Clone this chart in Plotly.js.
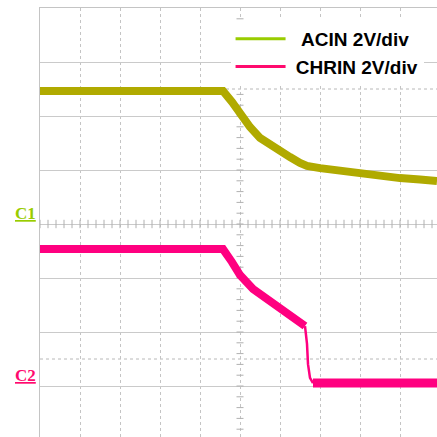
<!DOCTYPE html>
<html>
<head>
<meta charset="utf-8">
<script src="https://cdn.plot.ly/plotly-3.0.1.min.js"></script>
<style>html,body{margin:0;padding:0;background:#fff;}#chart{width:437px;height:437px;}</style>
</head>
<body>
<div id="chart"></div>
<script>
// Time axis in oscilloscope divisions
var acinTime  = [0, 4.575, 4.8, 5.0, 5.25, 5.5, 5.75, 6.0, 6.25, 6.5, 6.675, 7.0, 7.5, 8.0, 8.5, 9.0, 9.5, 9.925];
var acinVolts = [4.93, 4.93, 4.52, 4.07, 3.59, 3.19, 2.93, 2.70, 2.48, 2.26, 2.15, 2.07, 1.96, 1.85, 1.78, 1.70, 1.65, 1.59];

var chrinTime  = [0, 4.575, 4.8, 5.0, 5.325, 5.675, 6.0, 6.325, 6.575, 6.625, 6.675, 6.7, 6.75, 6.825, 9.925];
var chrinVolts = [5.07, 5.07, 4.59, 4.11, 3.59, 3.22, 2.85, 2.59, 2.33, 2.22, 1.56, 0.81, 0.30, 0.11, 0.11];

var channelNames   = ['ACIN 2V/div', 'CHRIN 2V/div'];
var channelLabels  = ['C1', 'C2'];
var channelOffsets = [4, 1];        // ground marker, divisions from bottom
var voltsPerDiv    = [2, 2];
var cursorVolts    = [5, 1];        // dotted cursor level on each channel

var traceColors  = ['#b0aa00', '#ff0080'];
var legendColors = ['#99cc00', '#ff0a6e'];

function toDiv(v, ch) { return v.map(function (x) { return channelOffsets[ch] + x / voltsPerDiv[ch]; }); }

var acinY = toDiv(acinVolts, 0);
var chrinY = toDiv(chrinVolts, 1);

var traces = [];
// graticule minor ticks
var tx = [], ty = [];
for (var i = 0; i <= 50; i++) { tx.push(i * 0.2); ty.push(channelOffsets[0]); }
var vx = [], vy = [];
for (var j = 1; j < 40; j++) { vx.push(5); vy.push(j * 0.2); }
traces.push({x: tx, y: ty, mode: 'markers', marker: {symbol: 'line-ns', size: 6, line: {width: 1, color: '#b0b0b0'}}, hoverinfo: 'skip', showlegend: false});
traces.push({x: vx, y: vy, mode: 'markers', marker: {symbol: 'line-ew', size: 5, line: {width: 1, color: '#b0b0b0'}}, hoverinfo: 'skip', showlegend: false});

traces.push({x: acinTime, y: acinY, mode: 'lines', line: {color: traceColors[0], width: 8}, showlegend: false, hoverinfo: 'skip'});
// CHRIN: slow part, fast edge (thin), settled part
var edgeStart = 9, edgeEnd = 13;
traces.push({x: chrinTime.slice(0, edgeStart + 1), y: chrinY.slice(0, edgeStart + 1), mode: 'lines', line: {color: traceColors[1], width: 8}, showlegend: false, hoverinfo: 'skip'});
traces.push({x: chrinTime.slice(edgeStart, edgeEnd + 1), y: chrinY.slice(edgeStart, edgeEnd + 1), mode: 'lines', line: {color: traceColors[1], width: 2.5}, showlegend: false, hoverinfo: 'skip'});
traces.push({x: chrinTime.slice(edgeEnd), y: chrinY.slice(edgeEnd), mode: 'lines', line: {color: traceColors[1], width: 9}, showlegend: false, hoverinfo: 'skip'});

// legend entries
var pad = ['\u00a0\u00a0', '\u00a0'];
traces.push({x: [null], y: [null], mode: 'lines', name: '<b>' + pad[0] + channelNames[0] + '</b>', line: {color: legendColors[0], width: 3}, legendgroup: 'a'});
traces.push({x: [null], y: [null], mode: 'lines', name: '<b>' + pad[1] + channelNames[1] + '</b>', line: {color: legendColors[1], width: 3}, legendgroup: 'b'});

// C1 arrow marker
traces.push({x: [-0.07], y: [channelOffsets[0]], mode: 'markers', marker: {symbol: 'triangle-right', size: 6, color: legendColors[0]}, cliponaxis: false, showlegend: false, hoverinfo: 'skip'});

var shapes = cursorVolts.map(function (v, ch) {
  var yy = channelOffsets[ch] + v / voltsPerDiv[ch];
  return {type: 'line', xref: 'paper', x0: 0, x1: 1, yref: 'y', y0: yy, y1: yy, layer: 'below', line: {color: '#b8b8b8', width: 1, dash: 'dot'}};
});
// white panel behind the legend
shapes.push({type: 'rect', xref: 'paper', yref: 'paper', x0: 0.458, x1: 0.977, y0: 0.8415, y1: 0.9627, layer: 'below', fillcolor: '#ffffff', line: {width: 0}});

var annotations = channelLabels.map(function (lab, ch) {
  return {text: '<b><u>' + lab + '</u></b>', xref: 'paper', x: 0, xanchor: 'right', xshift: -2, yref: 'y', y: channelOffsets[ch], yanchor: 'bottom', yshift: -1,
    showarrow: false, font: {family: 'Liberation Serif, Times New Roman, serif', size: 17, color: legendColors[ch]}};
});

var layout = {
  width: 437, height: 437,
  margin: {l: 40, r: 0, t: 8, b: 0, pad: 0},
  paper_bgcolor: '#ffffff', plot_bgcolor: '#ffffff',
  showlegend: true,
  legend: {x: 0.48, y: 0.972, xanchor: 'left', yanchor: 'top', bgcolor: '#ffffff', borderwidth: 0, tracegroupgap: 0, itemwidth: 50,
    font: {family: 'Liberation Sans, Arial, sans-serif', size: 19, color: '#000000'}},
  xaxis: {range: [0, 9.925], tick0: 0, dtick: 1, showgrid: true, gridcolor: '#c4c4c4', griddash: 'dot', gridwidth: 1,
    zeroline: false, showticklabels: false, ticks: '', side: 'top', showline: true, linecolor: '#c4c4c4', linewidth: 1, fixedrange: true},
  yaxis: {range: [0.0556, 8], tick0: 0, dtick: 1, showgrid: true, gridcolor: '#cacaca', gridwidth: 1,
    zeroline: false, showticklabels: false, ticks: '', showline: true, linecolor: '#c4c4c4', linewidth: 1, fixedrange: true},
  shapes: shapes,
  annotations: annotations
};

Plotly.newPlot('chart', traces, layout, {staticPlot: true, displayModeBar: false});
</script>
</body>
</html>
